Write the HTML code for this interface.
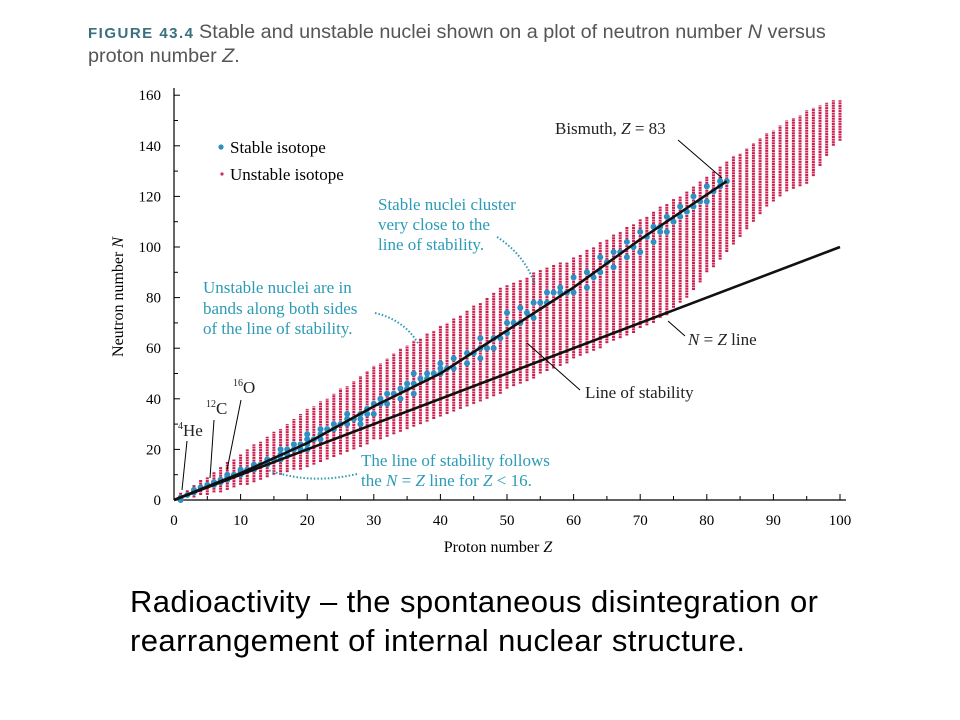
<!DOCTYPE html>
<html><head><meta charset="utf-8"><style>
body{margin:0;background:#fff;width:960px;height:720px;overflow:hidden}
svg{display:block}
.s{font-family:"Liberation Serif",serif}
</style></head><body>
<svg id="c" width="960" height="720" xmlns="http://www.w3.org/2000/svg">
<text x="88" y="38" font-family="Liberation Sans, sans-serif" font-weight="bold" font-size="15" fill="#3a6f80" textLength="105">FIGURE 43.4</text>
<text x="199" y="38" font-family="Liberation Sans, sans-serif" font-size="19.8" fill="#555">Stable and unstable nuclei shown on a plot of neutron number <tspan font-style="italic">N</tspan> versus</text>
<text x="88" y="62" font-family="Liberation Sans, sans-serif" font-size="19.8" fill="#555">proton number <tspan font-style="italic">Z</tspan>.</text>
<g id="plot"></g>
<text x="130" y="612" font-family="Liberation Sans, sans-serif" font-size="31" fill="#000" textLength="688">Radioactivity – the spontaneous disintegration or</text>
<text x="130" y="651" font-family="Liberation Sans, sans-serif" font-size="31" fill="#000" textLength="615">rearrangement of internal nuclear structure.</text>
</svg>
<script>
const xTicks=[0,10,20,30,40,50,60,70,80,90,100];
const yTicks=[0,20,40,60,80,100,120,140,160];
const unstableZ=[1,2,3,4,5,6,7,8,9,10,11,12,13,14,15,16,17,18,19,20,21,22,23,24,25,26,27,28,29,30,31,32,33,34,35,36,37,38,39,40,41,42,43,44,45,46,47,48,49,50,51,52,53,54,55,56,57,58,59,60,61,62,63,64,65,66,67,68,69,70,71,72,73,74,75,76,77,78,79,80,81,82,83,84,85,86,87,88,89,90,91,92,93,94,95,96,97,98,99,100];
const unstableMax=[3,4,6,8,9,11,13,15,16,18,20,22,23,25,27,28,30,32,34,36,37,39,40,42,44,45,47,49,51,53,54,56,58,60,61,63,64,66,67,69,70,72,73,75,77,78,80,82,84,85,86,87,88,90,91,92,93,94,94,96,97,99,100,102,103,105,106,108,109,111,112,114,116,117,119,120,122,124,126,128,130,132,134,136,137,139,141,143,145,146,148,150,151,152,154,155,156,157,158,158];
const unstableMin=[0,1,1,2,2,3,3,4,5,6,6,7,8,9,10,10,11,12,12,13,14,15,16,17,18,19,20,21,22,24,24,25,26,27,28,29,30,31,32,33,34,35,36,37,38,39,40,41,42,44,45,46,47,48,50,51,52,53,54,56,57,58,59,60,62,63,64,65,66,68,69,70,72,73,76,78,80,83,86,90,92,95,98,101,104,107,110,113,116,118,120,122,123,124,125,128,132,136,140,142];
const stableZ=[1,1,2,3,3,4,5,6,6,7,7,8,8,8,9,10,10,10,11,12,12,12,13,14,14,14,15,16,16,16,17,17,18,18,19,19,20,20,20,20,21,22,22,22,23,24,24,25,26,26,26,27,28,28,28,29,29,30,30,31,31,32,32,33,34,34,35,35,36,36,36,37,38,38,39,40,40,40,41,42,42,44,44,45,46,46,46,47,48,48,49,50,50,50,51,52,52,53,54,54,55,56,56,57,58,58,59,60,60,62,62,63,64,64,65,66,66,67,68,68,69,70,70,71,72,72,73,73,74,74,75,76,76,77,78,78,79,80,80,81,82,82,83];
const stableN=[0,1,2,3,4,5,6,6,7,7,8,8,9,10,10,10,11,12,12,12,13,14,14,14,15,16,16,16,18,20,18,20,20,22,20,22,20,22,24,26,24,24,26,28,28,28,30,30,30,32,34,32,30,32,34,34,36,34,38,38,40,38,42,42,40,44,44,46,42,46,50,48,48,50,50,50,52,54,52,52,56,54,58,58,56,60,64,60,60,64,64,66,70,74,70,70,76,74,72,78,78,78,82,82,82,84,82,82,88,84,90,88,90,96,94,92,98,98,96,102,100,98,106,104,102,108,106,108,106,112,110,112,116,114,116,120,118,118,124,122,124,126,126];
const stabilityZ=[0,10,20,30,40,50,60,70,83];
const stabilityN=[0,10.6,22.5,37,50,67,84,103,126];
const nzLineZ=[0,100];

const X=z=>174+z*6.66, Y=n=>500-n*2.53;
const NS="http://www.w3.org/2000/svg", g=document.getElementById('plot');
function mk(t,a,p){const e=document.createElementNS(NS,t);for(const k in a)e.setAttribute(k,a[k]);(p||g).appendChild(e);return e;}
let ax=mk('line',{x1:174,y1:88,x2:174,y2:500,stroke:'#000','stroke-width':1.2});


ax=mk('line',{x1:174,y1:500,x2:846,y2:500,stroke:'#000','stroke-width':1.2});


for(let n=0;n<=160;n+=10){mk('line',{x1:174,y1:Y(n),x2:n%20?178:180,y2:Y(n),stroke:'#000'});}
for(let z=0;z<=100;z+=5){mk('line',{x1:X(z),y1:500,x2:X(z),y2:z%10?496:494,stroke:'#000'});}
yTicks.forEach(v=>{const t=mk('text',{x:161,y:Y(v)+5,'text-anchor':'end','font-size':15,class:'s'});t.textContent=v;

});
xTicks.forEach(v=>{const t=mk('text',{x:X(v),y:525,'text-anchor':'middle','font-size':15,class:'s'});t.textContent=v;

});
let t=mk('text',{x:498,y:552,'text-anchor':'middle','font-size':16,class:'s'});t.innerHTML='Proton number <tspan font-style="italic">Z</tspan>';


t=mk('text',{x:0,y:0,'text-anchor':'middle','font-size':16,class:'s',transform:'translate(123,297) rotate(-90)'});t.innerHTML='Neutron number <tspan font-style="italic">N</tspan>';


unstableZ.forEach((z,i)=>{const l=mk('line',{x1:X(z),x2:X(z),y1:Y(unstableMin[i]),y2:Y(unstableMax[i]),stroke:'#cc1f50','stroke-width':3,'stroke-dasharray':'2 0.6'});

});
stableZ.forEach((z,i)=>{const c=mk('circle',{cx:X(z),cy:Y(stableN[i]),r:3,fill:'#2f8fc4'});

});
let p=mk('polyline',{points:stabilityZ.map((z,i)=>X(z)+','+Y(stabilityN[i])).join(' '),fill:'none',stroke:'#111','stroke-width':2.6,'stroke-linejoin':'round'});


p=mk('polyline',{points:nzLineZ.map(z=>X(z)+','+Y(z)).join(' '),fill:'none',stroke:'#111','stroke-width':2.6});


let c=mk('circle',{cx:221,cy:147,r:2.6,fill:'#2f8fc4'});
c=mk('circle',{cx:222,cy:174,r:1.6,fill:'#d3285a'});
t=mk('text',{x:230,y:153,'font-size':17,class:'s'});t.textContent='Stable isotope';
t=mk('text',{x:230,y:180,'font-size':17,class:'s'});t.textContent='Unstable isotope';
function txt(x,y,s,col,name){const e=mk('text',{x:x,y:y,'font-size':17,class:'s',fill:col});e.innerHTML=s;return e;}
const teal='#2c9bb5';
txt(555,134,'Bismuth, <tspan font-style="italic">Z</tspan> = 83','#222','bismuth-label');
mk('line',{x1:678,y1:140,x2:722,y2:178,stroke:'#000'});
txt(378,210,'Stable nuclei cluster',teal,'stable-cluster-note');
txt(378,230,'very close to the',teal,'stable-cluster-note');
txt(378,250,'line of stability.',teal,'stable-cluster-note');
mk('path',{d:'M497,237 Q525,255 535,285',fill:'none',stroke:teal,'stroke-width':2,'stroke-dasharray':'1.5 2'});
txt(203,293,'Unstable nuclei are in',teal,'unstable-bands-note');
txt(203,314,'bands along both sides',teal,'unstable-bands-note');
txt(203,334,'of the line of stability.',teal,'unstable-bands-note');
mk('path',{d:'M375,313 Q405,320 419,345',fill:'none',stroke:teal,'stroke-width':2,'stroke-dasharray':'1.5 2'});
txt(361,466,'The line of stability follows',teal,'nz-follow-note');
txt(361,486,'the <tspan font-style="italic">N</tspan> = <tspan font-style="italic">Z</tspan> line for <tspan font-style="italic">Z</tspan> &lt; 16.',teal,'nz-follow-note');
mk('path',{d:'M357,474 Q310,485 268,470',fill:'none',stroke:teal,'stroke-width':2,'stroke-dasharray':'1.5 2'});
txt(688,345,'<tspan font-style="italic">N</tspan> = <tspan font-style="italic">Z</tspan> line','#222','nz-line-label');
mk('line',{x1:685,y1:336,x2:668,y2:321,stroke:'#000'});
txt(585,398,'Line of stability','#222','stability-line-label');
mk('line',{x1:580,y1:390,x2:527,y2:343,stroke:'#000'});
txt(178,436,'<tspan font-size="10" dy="-7">4</tspan><tspan dy="7">He</tspan>','#222','he4-label');
mk('line',{x1:187,y1:441,x2:182,y2:490,stroke:'#000'});
txt(206,414,'<tspan font-size="10" dy="-7">12</tspan><tspan dy="7">C</tspan>','#222','c12-label');
mk('line',{x1:214,y1:420,x2:210,y2:478,stroke:'#000'});
txt(233,393,'<tspan font-size="10" dy="-7">16</tspan><tspan dy="7">O</tspan>','#222','o16-label');
mk('line',{x1:241,y1:400,x2:227,y2:470,stroke:'#000'});
</script>
</body></html>
